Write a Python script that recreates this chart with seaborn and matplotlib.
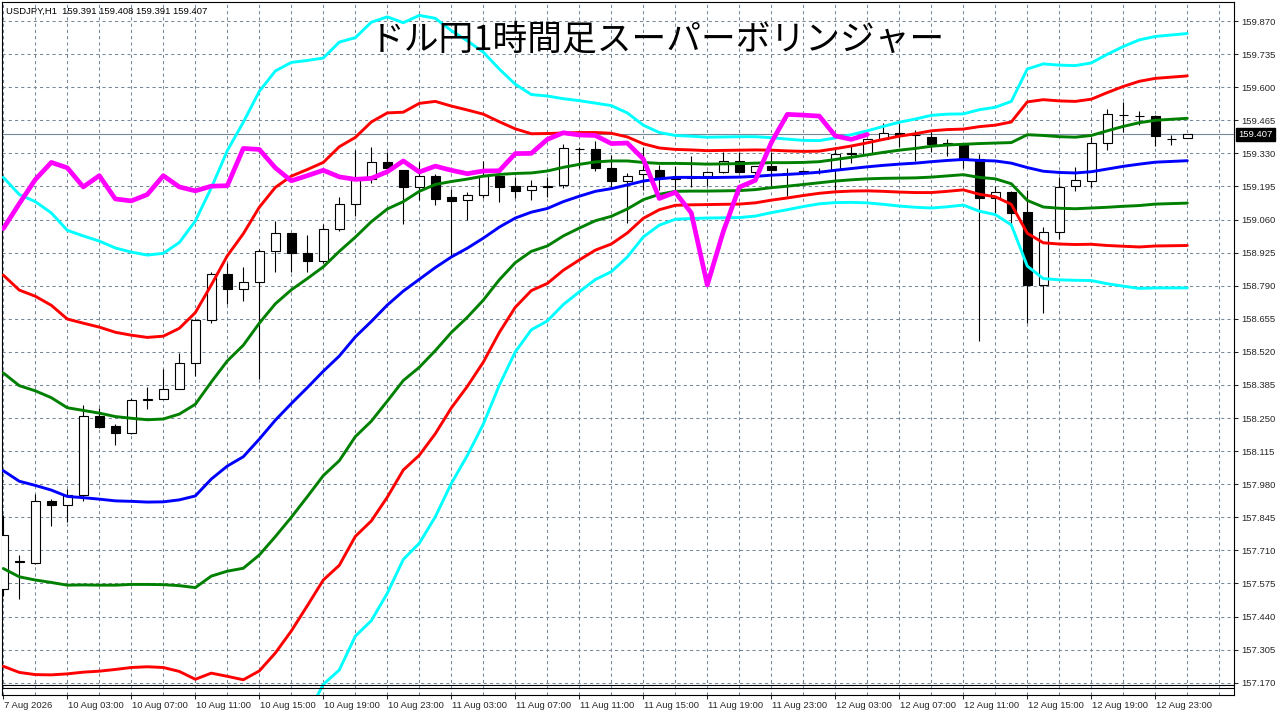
import numpy as np
import pandas as pd
import matplotlib
matplotlib.use('Agg')
import matplotlib.pyplot as plt
import matplotlib.transforms as mtransforms
import seaborn as sns

# USDJPY H1 bars: last Friday bar, then hourly from Monday
times = [pd.Timestamp('2026-08-07 23:00')] + list(pd.date_range('2026-08-10 00:00', periods=74, freq='h'))

opens = [157.553, 157.662, 157.659, 157.913, 157.894, 157.937, 158.259, 158.216, 158.188, 158.325,
         158.329, 158.370, 158.476, 158.651, 158.839, 158.776, 158.806, 158.933, 159.003, 158.925,
         158.891, 159.022, 159.125, 159.227, 159.293, 159.261, 159.193, 159.239, 159.150, 159.141,
         159.161, 159.239, 159.196, 159.182, 159.194, 159.199, 159.348, 159.346, 159.272, 159.218,
         159.244, 159.261, 159.228, 159.232, 159.238, 159.254, 159.299, 159.254, 159.278, 159.250,
         159.255, 159.258, 159.264, 159.328, 159.329, 159.387, 159.414, 159.405, 159.395, 159.370,
         159.370, 159.307, 159.146, 159.171, 159.090, 158.794, 159.011, 159.195, 159.219, 159.374,
         159.488, 159.484, 159.481, 159.390, 159.391]
highs = [157.856, 157.691, 157.938, 157.920, 157.961, 158.304, 158.290, 158.224, 158.333, 158.376,
         158.450, 158.515, 158.655, 158.847, 158.883, 158.867, 158.940, 159.054, 159.005, 158.996,
         159.040, 159.153, 159.343, 159.357, 159.334, 159.264, 159.293, 159.245, 159.186, 159.171,
         159.299, 159.242, 159.235, 159.220, 159.234, 159.368, 159.357, 159.380, 159.324, 159.248,
         159.354, 159.282, 159.278, 159.318, 159.257, 159.336, 159.336, 159.280, 159.336, 159.272,
         159.262, 159.270, 159.354, 159.363, 159.390, 159.452, 159.453, 159.425, 159.418, 159.387,
         159.372, 159.326, 159.195, 159.175, 159.180, 159.030, 159.234, 159.275, 159.397, 159.513,
         159.538, 159.504, 159.486, 159.404, 159.408]
lows = [157.525, 157.512, 157.655, 157.811, 157.825, 157.910, 158.210, 158.139, 158.185, 158.286,
        158.326, 158.368, 158.420, 158.638, 158.717, 158.727, 158.408, 158.846, 158.846, 158.846,
        158.883, 159.013, 159.073, 159.210, 159.268, 159.041, 159.139, 159.120, 158.907, 159.060,
        159.148, 159.132, 159.148, 159.139, 159.152, 159.189, 159.271, 159.259, 159.187, 159.044,
        159.180, 159.180, 159.180, 159.191, 159.196, 159.250, 159.250, 159.238, 159.196, 159.155,
        159.250, 159.245, 159.180, 159.289, 159.327, 159.385, 159.357, 159.299, 159.336, 159.321,
        159.272, 158.564, 159.085, 159.044, 158.638, 158.678, 158.981, 159.177, 159.193, 159.343,
        159.419, 159.444, 159.359, 159.365, 159.391]
closes = [157.773, 157.666, 157.912, 157.895, 157.937, 158.259, 158.213, 158.188, 158.325, 158.329,
          158.370, 158.476, 158.651, 158.839, 158.776, 158.806, 158.933, 159.003, 158.924, 158.891,
          159.023, 159.125, 159.223, 159.293, 159.271, 159.193, 159.239, 159.144, 159.136, 159.162,
          159.239, 159.193, 159.177, 159.196, 159.198, 159.350, 159.346, 159.271, 159.218, 159.239,
          159.261, 159.234, 159.224, 159.228, 159.255, 159.299, 159.254, 159.278, 159.261, 159.247,
          159.258, 159.259, 159.329, 159.330, 159.387, 159.414, 159.405, 159.403, 159.370, 159.372,
          159.307, 159.146, 159.171, 159.087, 158.793, 159.011, 159.192, 159.220, 159.374, 159.489,
          159.486, 159.482, 159.401, 159.387, 159.407]

# Bollinger middle line and one standard deviation, read per bar
bb_mid = [158.035, 157.992, 157.975, 157.956, 157.930, 157.925, 157.919, 157.912, 157.910, 157.907,
          157.908, 157.916, 157.932, 158.001, 158.054, 158.092, 158.164, 158.241, 158.309, 158.374,
          158.441, 158.503, 158.581, 158.644, 158.711, 158.768, 158.816, 158.864, 158.907, 158.943,
          158.984, 159.029, 159.066, 159.090, 159.105, 159.133, 159.155, 159.175, 159.186, 159.201,
          159.217, 159.226, 159.232, 159.232, 159.231, 159.232, 159.233, 159.236, 159.241, 159.244,
          159.248, 159.253, 159.261, 159.268, 159.275, 159.281, 159.286, 159.290, 159.296, 159.301,
          159.305, 159.301, 159.299, 159.290, 159.272, 159.257, 159.252, 159.250, 159.255, 159.266,
          159.277, 159.286, 159.294, 159.297, 159.300]
bb_sd = [0.399, 0.390, 0.386, 0.377, 0.362, 0.356, 0.351, 0.344, 0.339, 0.336,
         0.338, 0.350, 0.374, 0.396, 0.429, 0.455, 0.473, 0.475, 0.464, 0.445,
         0.426, 0.427, 0.407, 0.407, 0.392, 0.365, 0.359, 0.339, 0.308, 0.282,
         0.253, 0.215, 0.182, 0.160, 0.153, 0.140, 0.130, 0.120, 0.113, 0.098,
         0.076, 0.063, 0.057, 0.056, 0.055, 0.055, 0.055, 0.054, 0.051, 0.048,
         0.045, 0.043, 0.044, 0.046, 0.049, 0.053, 0.057, 0.060, 0.063, 0.063,
         0.062, 0.069, 0.073, 0.084, 0.134, 0.146, 0.146, 0.146, 0.148, 0.156,
         0.163, 0.169, 0.171, 0.172, 0.173]
lag_shift = 20
last_price = closes[-1]

price_ticks = [round(157.170 + 0.135 * k, 3) for k in range(21)]

sns.set_style('white')
plt.rcParams['font.family'] = ['Liberation Sans', 'DejaVu Sans']

n = len(closes)
bars = np.arange(n)
df = pd.DataFrame({'bar': bars, 'mid': bb_mid, 'sd': bb_sd})
for k in (1, 2, 3):
    df[f'up{k}'] = df['mid'] + k * df['sd']
    df[f'dn{k}'] = df['mid'] - k * df['sd']
lag = pd.DataFrame({'bar': bars[:n - lag_shift], 'price': closes[lag_shift:]})

fig = plt.figure(figsize=(12.8, 7.16), dpi=100)
ax = fig.add_axes([2 / 1280, 21 / 716, 1232 / 1280, 693 / 716])

# current price line
ax.axhline(last_price, color='#778899', lw=0.8, zorder=1)

# candles
o = np.array(opens)
c = np.array(closes)
up = c >= o
ax.vlines(bars, lows, highs, color='black', lw=0.8, zorder=2)
ax.bar(bars, np.abs(c - o), bottom=np.minimum(o, c), width=0.58,
       color=np.where(up, 'white', 'black'), edgecolor='black', linewidth=0.8, zorder=3)

band_colors = {3: '#00FFFF', 2: '#FF0000', 1: '#008000'}
for k, col in band_colors.items():
    sns.lineplot(data=df, x='bar', y=f'up{k}', color=col, lw=2.1, ax=ax, zorder=4)
    sns.lineplot(data=df, x='bar', y=f'dn{k}', color=col, lw=2.1, ax=ax, zorder=4)
sns.lineplot(data=df, x='bar', y='mid', color='#0000FF', lw=2.1, ax=ax, zorder=4)
sns.lineplot(data=lag, x='bar', y='price', color='#FF00FF', lw=3.4, ax=ax, zorder=5)

ax.set_xlim((2 - 3.3) / 16, (1234 - 3.3) / 16)
ax.set_ylim(157.1198, 159.9476)
ax.set_xlabel('')
ax.set_ylabel('')

# x axis: labels every 4 hours, grid every 2 hours
major = [0] + list(range(4, n, 4))
labels = ['7 Aug 2026' if i == 0 else f'{times[i].day} {times[i]:%b %H:%M}' for i in major]
ax.set_xticks(major)
ax.set_xticklabels(labels, ha='left')
ax.set_xticks(np.arange(0, 78, 2), minor=True)
ax.tick_params(axis='x', which='major', direction='out', length=2.9, width=0.75,
               labelsize=6.8, pad=1.5, bottom=True)
ax.tick_params(axis='x', which='minor', length=0)
for lab in ax.get_xticklabels():
    lab.set_transform(lab.get_transform() + mtransforms.ScaledTranslation(0.5 / 100, 0, fig.dpi_scale_trans))

ax.yaxis.tick_right()
ax.set_yticks(price_ticks)
ax.set_yticklabels([f'{p:.3f}' for p in price_ticks])
ax.tick_params(axis='y', direction='out', length=2.9, width=0.75, labelsize=6.8, pad=2.0, right=True)

ax.grid(which='both', axis='x', color='#778899', lw=0.75, ls=(0, (3, 3)))
ax.grid(which='major', axis='y', color='#778899', lw=0.75, ls=(0, (3, 3)))
ax.set_axisbelow(True)
for s in ax.spines.values():
    s.set_color('black')
    s.set_linewidth(0.8)
    s.set_visible(True)

# double separator line at the bottom of the chart area
for f in (0.014, 0.0105):
    ax.plot([0, 1], [f, f], transform=ax.transAxes, color='black', lw=0.8, zorder=6, clip_on=False)

# price box on the right axis
trans = mtransforms.blended_transform_factory(ax.transAxes, ax.transData)
ax.text(1.0 + 4 / 1232, last_price, f'{last_price:.3f}', transform=trans, ha='left', va='center',
        color='white', fontsize=6.8, zorder=7,
        bbox=dict(boxstyle='square,pad=0.25', fc='black', ec='black'))

fig.text(6 / 1280, 1 - 11 / 716,
         f'USDJPY,H1  {opens[-1]:.3f} {highs[-1]:.3f} {lows[-1]:.3f} {closes[-1]:.3f}',
         fontsize=6.8, va='center', ha='left', color='black')
fig.text(370 / 1280, 1 - 40 / 716, 'ドル円1時間足スーパーボリンジャー', fontsize=25,
         va='center', ha='left', color='black', family=['Noto Sans CJK JP', 'DejaVu Sans'])

fig.savefig('out.png', dpi=100, facecolor='white')
